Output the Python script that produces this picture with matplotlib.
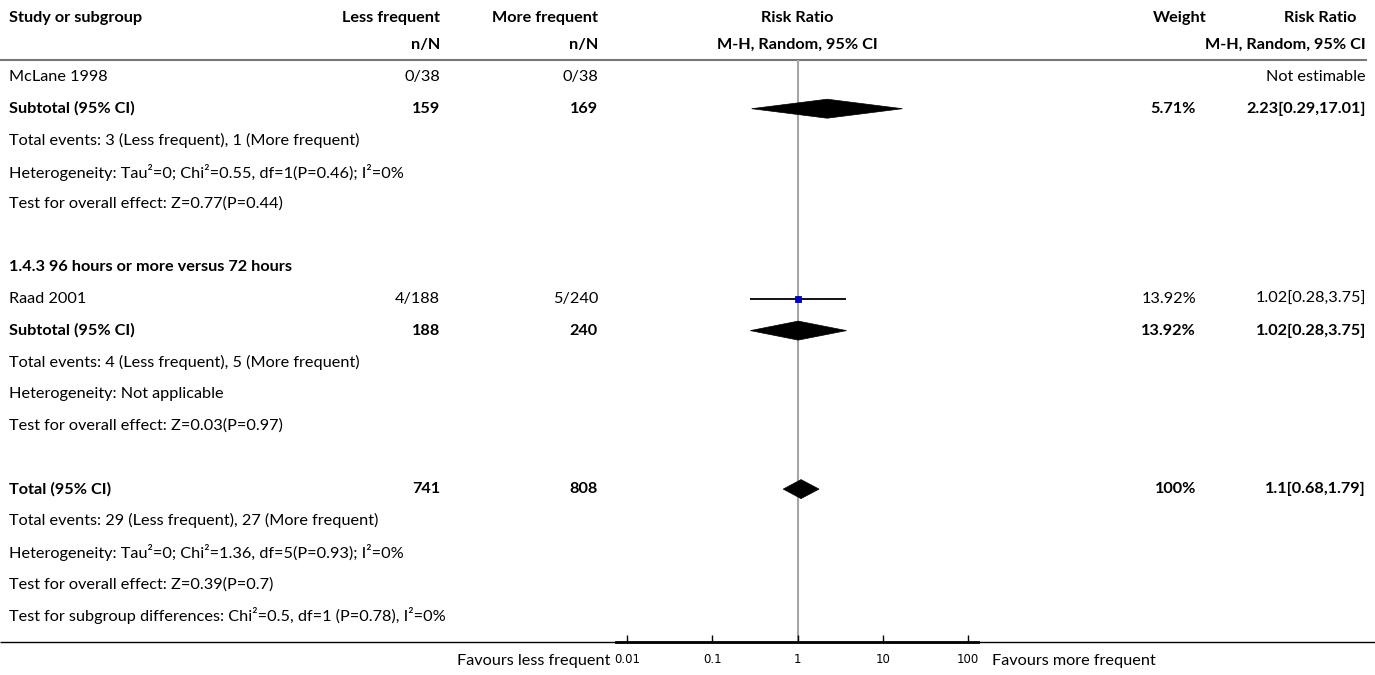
import matplotlib
matplotlib.use("Agg")
import matplotlib.pyplot as plt
from matplotlib.patches import Polygon

# ---------------------------------------------------------------- data
header_top = ["Study or subgroup", "Less frequent", "More frequent", "Risk Ratio", "Weight", "Risk Ratio"]
header_sub = ["n/N", "n/N", "M-H, Random, 95% CI", "M-H, Random, 95% CI"]

# study / subtotal rows
row_index = [0, 1, 7, 8, 13]
row_label = ["McLane 1998", "Subtotal (95% CI)", "Raad 2001", "Subtotal (95% CI)", "Total (95% CI)"]
less_freq = ["0/38", "159", "4/188", "188", "741"]
more_freq = ["0/38", "169", "5/240", "240", "808"]
risk_ratio = [None, 2.23, 1.02, 1.02, 1.1]
ci_low = [None, 0.29, 0.28, 0.28, 0.68]
ci_high = [None, 17.01, 3.75, 3.75, 1.79]
weight_pct = [None, 5.71, 13.92, 13.92, 100]
row_bold = [False, True, False, True, True]
row_kind = ["study", "diamond", "study", "diamond", "diamond"]

# free text rows
note_index = [2, 3, 4, 6, 9, 10, 11, 14, 15, 16, 17]
note_text = [
    "Total events: 3 (Less frequent), 1 (More frequent)",
    "Heterogeneity: Tau\u00b2=0; Chi\u00b2=0.55, df=1(P=0.46); I\u00b2=0%",
    "Test for overall effect: Z=0.77(P=0.44)",
    "1.4.3 96 hours or more versus 72 hours",
    "Total events: 4 (Less frequent), 5 (More frequent)",
    "Heterogeneity: Not applicable",
    "Test for overall effect: Z=0.03(P=0.97)",
    "Total events: 29 (Less frequent), 27 (More frequent)",
    "Heterogeneity: Tau\u00b2=0; Chi\u00b2=1.36, df=5(P=0.93); I\u00b2=0%",
    "Test for overall effect: Z=0.39(P=0.7)",
    "Test for subgroup differences: Chi\u00b2=0.5, df=1 (P=0.78), I\u00b2=0%",
]
note_bold = [False, False, False, True, False, False, False, False, False, False, False]

tick_values = [0.01, 0.1, 1, 10, 100]
tick_labels = ["0.01", "0.1", "1", "10", "100"]
favours_left = "Favours less frequent"
favours_right = "Favours more frequent"

# ---------------------------------------------------------------- layout
W, H = 1375, 675
ROW0, STEP = 77.0, 31.7
FONT = "Lato"
FS = 11.7

def row_y(i):
    return ROW0 + STEP * i

fig = plt.figure(figsize=(W / 100, H / 100), dpi=100)
fig.patch.set_facecolor("white")

bg = fig.add_axes([0, 0, 1, 1])
bg.set_xlim(0, W)
bg.set_ylim(H, 0)
bg.axis("off")

X_STUDY, X_LESS, X_MORE, X_RR, X_WEIGHT, X_RR2 = 9, 440, 598, 797, 1196, 1366

def txt(x, y, s, ha="left", bold=False, size=FS, family=FONT):
    bg.text(x, y, s, ha=ha, va="center", fontsize=size,
            fontweight="bold" if bold else "normal", family=family, color="black")

# header
txt(X_STUDY, 18, header_top[0], bold=True)
txt(X_LESS, 18, header_top[1], ha="right", bold=True)
txt(X_MORE, 18, header_top[2], ha="right", bold=True)
txt(X_RR, 18, header_top[3], ha="center", bold=True)
txt(1180, 18, header_top[4], ha="center", bold=True)
txt(1320, 18, header_top[5], ha="center", bold=True)
txt(X_LESS, 45, header_sub[0], ha="right", bold=True)
txt(X_MORE, 45, header_sub[1], ha="right", bold=True)
txt(X_RR, 45, header_sub[2], ha="center", bold=True)
txt(X_RR2, 45, header_sub[3], ha="right", bold=True)
bg.plot([0, 1367], [59.5, 59.5], color="#777777", lw=1.5, solid_capstyle="butt")

# table rows
for i, lab, a, b, w, rr, lo, hi, bold in zip(row_index, row_label, less_freq, more_freq,
                                             weight_pct, risk_ratio, ci_low, ci_high, row_bold):
    y = row_y(i)
    txt(X_STUDY, y, lab, bold=bold)
    txt(X_LESS, y, a, ha="right", bold=bold)
    txt(X_MORE, y, b, ha="right", bold=bold)
    if rr is None:
        txt(X_RR2, y, "Not estimable", ha="right", bold=bold)
    else:
        txt(X_WEIGHT, y, f"{w:g}%", ha="right", bold=bold)
        txt(X_RR2, y, f"{rr:g}[{lo:g},{hi:g}]", ha="right", bold=bold)

for i, s, bold in zip(note_index, note_text, note_bold):
    txt(X_STUDY, row_y(i), s, bold=bold)

# bottom rule and favours labels
AX_Y = 642
bg.plot([0, W], [AX_Y, AX_Y], color="black", lw=1, solid_capstyle="butt")
txt(610, 661, favours_left, ha="right")
txt(992, 661, favours_right, ha="left")

# ---------------------------------------------------------------- forest axes
left_px, right_px, top_px = 616, 978, 60
ax = fig.add_axes([left_px / W, 1 - AX_Y / H, (right_px - left_px) / W, (AX_Y - top_px) / H])
ax.set_xscale("log")
ax.set_xlim(0.00743, 131)
ax.set_ylim(AX_Y, top_px)
ax.patch.set_alpha(0)
for side in ("top", "left", "right"):
    ax.spines[side].set_visible(False)
ax.spines["bottom"].set_linewidth(2)
ax.set_yticks([])
ax.set_xticks(tick_values)
ax.set_xticklabels(tick_labels, family="DejaVu Sans", fontsize=8.5)
ax.minorticks_off()
ax.tick_params(axis="x", direction="in", length=5, width=1, pad=8)

ax.axvline(1, color="#a6a6a6", lw=1.5, zorder=1)

HALF = 9.5
for i, rr, lo, hi, kind in zip(row_index, risk_ratio, ci_low, ci_high, row_kind):
    if rr is None:
        continue
    y = row_y(i)
    if kind == "diamond":
        ax.add_patch(Polygon([(lo, y), (rr, y - HALF), (hi, y), (rr, y + HALF)],
                             closed=True, facecolor="black", edgecolor="black", lw=0.5, zorder=3))
    else:
        ax.plot([lo, hi], [y, y], color="black", lw=1.3, zorder=3, solid_capstyle="butt")
        ax.plot([rr], [y], marker="s", ms=4, color="#0000cc", mec="#00008b", mew=0.6, zorder=4)

fig.savefig("out.png", dpi=100, facecolor="white")
